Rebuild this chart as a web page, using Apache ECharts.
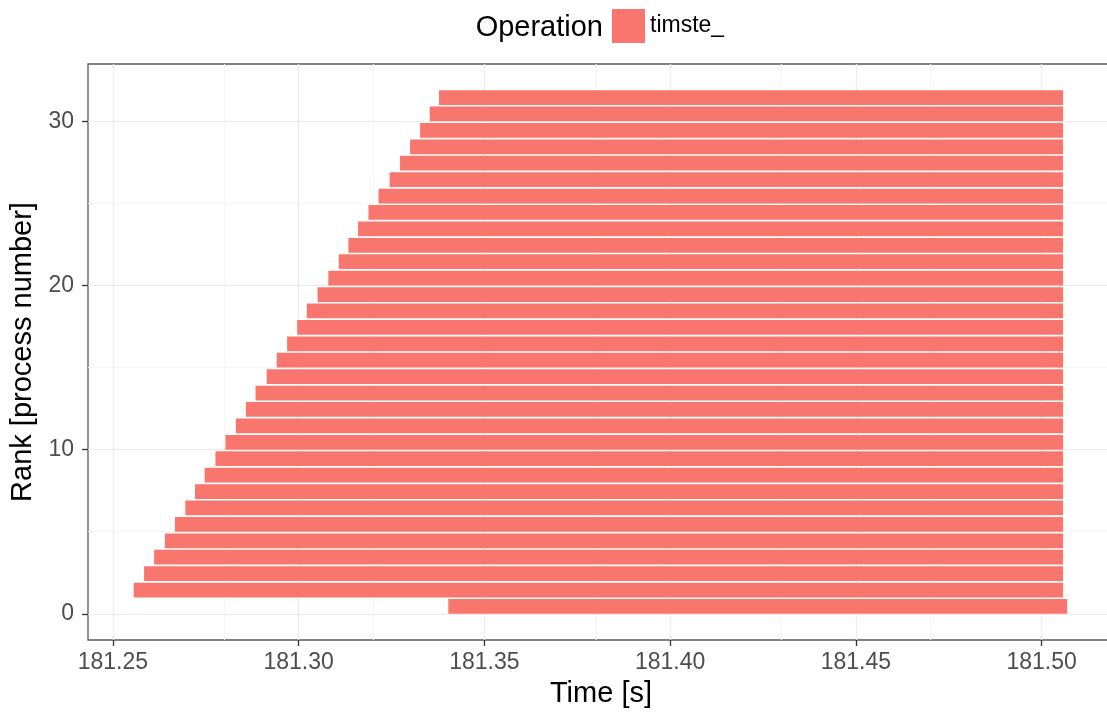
<!DOCTYPE html>
<html>
<head>
<meta charset="utf-8">
<script src="https://cdn.jsdelivr.net/npm/echarts@6/dist/echarts.min.js"></script>
<style>
  html, body { margin: 0; padding: 0; background: #ffffff; overflow: hidden; width: 1107px; height: 713px; }
  #chart { width: 1114px; height: 713px; }
</style>
</head>
<body>
<div id="chart"></div>
<script>
// ---- data ----
const SERIES_NAME = 'timste_';
const LEGEND_TITLE = 'Operation';
const RANKS = [0, 1, 2, 3, 4, 5, 6, 7, 8, 9, 10, 11, 12, 13, 14, 15,
               16, 17, 18, 19, 20, 21, 22, 23, 24, 25, 26, 27, 28, 29, 30, 31];
const STARTS = [181.3403, 181.2556, 181.2584, 181.2611, 181.2640, 181.2667, 181.2695, 181.2721,
                181.2747, 181.2776, 181.2803, 181.2831, 181.2858, 181.2884, 181.2914, 181.2941,
                181.2969, 181.2996, 181.3022, 181.3051, 181.3080, 181.3108, 181.3134, 181.3160,
                181.3188, 181.3215, 181.3245, 181.3273, 181.3300, 181.3327, 181.3353, 181.3378];
const ENDS = [181.5069, 181.5058, 181.5058, 181.5058, 181.5058, 181.5058, 181.5058, 181.5058,
              181.5058, 181.5058, 181.5058, 181.5058, 181.5058, 181.5058, 181.5058, 181.5058,
              181.5058, 181.5058, 181.5058, 181.5058, 181.5058, 181.5058, 181.5058, 181.5058,
              181.5058, 181.5058, 181.5058, 181.5058, 181.5058, 181.5058, 181.5058, 181.5058];
const X_TICKS = [181.25, 181.30, 181.35, 181.40, 181.45, 181.50];
const X_MINOR = [181.275, 181.325, 181.375, 181.425, 181.475];
const Y_TICKS = [0, 10, 20, 30];
const Y_MINOR = [5, 15, 25];
const BAR_HEIGHT = 0.9;

// ---- chart ----
const FONT = '"Liberation Sans", Arial, Helvetica, sans-serif';
const BAR_COLOR = '#F8766D';
const chart = echarts.init(document.getElementById('chart'), null, { renderer: 'canvas' });

const data = RANKS.map((r, i) => [r, STARTS[i], ENDS[i]]);

const gridLines = [].concat(
  Y_MINOR.map(v => ({ yAxis: v, lineStyle: { color: '#F5F5F5', width: 1 } })),
  X_MINOR.map(v => ({ xAxis: v, lineStyle: { color: '#F5F5F5', width: 1 } })),
  Y_TICKS.map(v => ({ yAxis: v, lineStyle: { color: '#EBEBEB', width: 1.2 } })),
  X_TICKS.map(v => ({ xAxis: v, lineStyle: { color: '#EBEBEB', width: 1.2 } }))
);

const option = {
  animation: false,
  backgroundColor: '#ffffff',
  color: [BAR_COLOR],
  textStyle: { fontFamily: FONT },
  grid: {
    left: 88, right: 0, top: 64, bottom: 73,
    show: true, borderColor: '#5a5a5a', borderWidth: 1.3, backgroundColor: 'transparent'
  },
  graphic: [{
    type: 'text', x: 603, y: 27.5,
    style: {
      text: LEGEND_TITLE, fill: '#000000', font: '29px ' + FONT,
      align: 'right', verticalAlign: 'middle'
    }
  }],
  legend: {
    left: 612, top: 9, padding: 0, itemGap: 10,
    itemWidth: 33, itemHeight: 34,
    data: [{ name: SERIES_NAME, icon: 'rect' }],
    textStyle: { fontSize: 23, color: '#000000', fontFamily: FONT },
    selectedMode: false
  },
  xAxis: {
    type: 'value',
    min: 181.2433, max: 181.5195,
    name: 'Time [s]', nameLocation: 'middle', nameGap: 39,
    nameTextStyle: { fontSize: 29, color: '#000000', fontFamily: FONT },
    axisLine: { show: false, onZero: false },
    axisTick: { show: true, length: 6, customValues: X_TICKS, lineStyle: { color: '#333333', width: 1.3 } },
    axisLabel: {
      show: true, customValues: X_TICKS, margin: 11,
      fontSize: 23, color: '#4D4D4D', fontFamily: FONT,
      formatter: v => Number(v).toFixed(2)
    },
    splitLine: { show: false }
  },
  yAxis: {
    type: 'value',
    min: -1.595, max: 33.495,
    name: 'Rank [process number]', nameLocation: 'middle', nameGap: 42,
    nameTextStyle: { fontSize: 29, color: '#000000', fontFamily: FONT },
    axisLine: { show: false, onZero: false },
    axisTick: { show: true, length: 6, customValues: Y_TICKS, lineStyle: { color: '#333333', width: 1.3 } },
    axisLabel: {
      show: true, customValues: Y_TICKS, margin: 14,
      fontSize: 23, color: '#4D4D4D', fontFamily: FONT,
      formatter: v => String(Math.round(v))
    },
    splitLine: { show: false }
  },
  series: [
    {
      name: '__grid',
      type: 'line',
      data: [],
      z: 0,
      silent: true,
      markLine: {
        silent: true, z: 0, symbol: ['none', 'none'], animation: false,
        label: { show: false },
        lineStyle: { type: 'solid' },
        emphasis: { disabled: true },
        data: gridLines
      }
    },
    {
      name: SERIES_NAME,
      type: 'custom',
      z: 2,
      itemStyle: { color: BAR_COLOR },
      encode: { x: [1, 2], y: 0 },
      data: data,
      renderItem: function (params, api) {
        const rank = api.value(0);
        const p1 = api.coord([api.value(1), rank + BAR_HEIGHT]);
        const p2 = api.coord([api.value(2), rank]);
        return {
          type: 'rect',
          shape: { x: p1[0], y: p1[1], width: p2[0] - p1[0], height: p2[1] - p1[1] },
          style: { fill: BAR_COLOR }
        };
      }
    }
  ]
};
chart.setOption(option);
</script>
</body>
</html>
